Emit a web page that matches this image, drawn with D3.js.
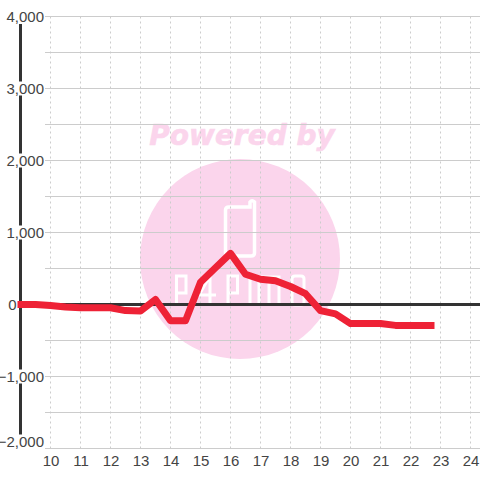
<!DOCTYPE html>
<html>
<head>
<meta charset="utf-8">
<script src="https://cdn.jsdelivr.net/npm/d3@7"></script>
<style>
  html, body { margin: 0; padding: 0; background: #fff; }
  svg { display: block; }
  text { font-family: "Liberation Sans", sans-serif; }
</style>
</head>
<body>
<svg id="chart" width="480" height="480"></svg>
<script>
const hours = [8.9, 9.5, 10, 10.5, 11, 11.5, 12, 12.5, 13, 13.5, 14, 14.5, 15, 15.5, 16, 16.5, 17, 17.5, 18, 18.5, 19, 19.5, 20, 20.5, 21, 21.5, 22, 22.5, 22.8];
const values = [0, 0, -15, -35, -45, -45, -45, -85, -90, 70, -225, -225, 310, 510, 710, 420, 350, 330, 250, 150, -85, -130, -265, -265, -265, -290, -290, -290, -290];

const yTicks = [4000, 3000, 2000, 1000, 0, -1000, -2000];
const yGridTicks = [4000, 3500, 3000, 2500, 2000, 1500, 1000, 500, 0, -500, -1000, -1500, -2000];
const xTicks = [10, 11, 12, 13, 14, 15, 16, 17, 18, 19, 20, 21, 22, 23, 24];

const svg = d3.select("#chart");

const x = d3.scaleLinear().domain([9, 24]).range([20.5, 470.5]);
const y = d3.scaleLinear().domain([-2000, 4000]).range([448.5, 16.5]);

const textColor = '#444';
const axisColor = '#333';
const gridColor = '#ccc';
const lineColor = '#ee2236';
const pink = '#fbd5ec';

// watermark
const wm = svg.append("g");
wm.append("circle").attr("cx", 240).attr("cy", 259).attr("r", 100).attr("fill", pink);
wm.append("path")
  .attr("d", "M225.5,210 Q225.5,207 229,207 H250 V202 Q252,199.5 254.5,202 V253 Q254.5,256 251,256 H229 Q225.5,256 225.5,253 Z")
  .attr("fill", "none").attr("stroke", "#fff").attr("stroke-width", 3.5);
wm.append("path")
  .attr("d", "M176.5,305 V276 H186 V293 H176.5 M199,295 L210,276 V305 M196,295 H216 M228,305 V276 H237.5 V293 H228 M250,305 V276 M259,305 V277 H279 V305 M269,277 V305 M292,279 Q292,276 295,276 H301 Q304,276 304,279 V302 Q304,305 301,305 H295 Q292,305 292,302 Z")
  .attr("fill", "none").attr("stroke", "#fff").attr("stroke-width", 3);
wm.append("text")
  .attr("x", 242).attr("y", 144.5)
  .attr("text-anchor", "middle")
  .style("font-family", "'DejaVu Sans', sans-serif")
  .style("font-size", "28px")
  .style("font-weight", "bold")
  .style("font-style", "italic")
  .attr("fill", pink)
  .attr("stroke", pink)
  .attr("stroke-width", 0.6)
  .text("Powered by");

// grid
svg.append("g")
  .selectAll("line")
  .data(xTicks)
  .enter()
  .append("line")
  .attr("x1", d => x(d)).attr("x2", d => x(d))
  .attr("y1", y(4000)).attr("y2", y(-2000))
  .attr("stroke", gridColor)
  .attr("stroke-dasharray", "2,3");

svg.append("g")
  .selectAll("line")
  .data(yGridTicks)
  .enter()
  .append("line")
  .attr("x1", 45).attr("x2", 480)
  .attr("y1", d => y(d)).attr("y2", d => y(d))
  .attr("stroke", gridColor);

// axes
svg.append("line")
  .attr("x1", x(9)).attr("x2", x(9))
  .attr("y1", 24).attr("y2", 436)
  .attr("stroke", axisColor).attr("stroke-width", 3);

svg.append("line")
  .attr("x1", x(9)).attr("x2", 480)
  .attr("y1", y(0)).attr("y2", y(0))
  .attr("stroke", axisColor).attr("stroke-width", 3);

// white gaps where the labels cross the axis
const labelY = d => Math.min(y(d), 441.5);
svg.append("g")
  .selectAll("rect")
  .data(yTicks.filter(d => d !== 0))
  .enter()
  .append("rect")
  .attr("x", 4).attr("width", 40)
  .attr("y", d => labelY(d) - 7).attr("height", 14)
  .attr("fill", "#fff");

// line
const line = d3.line().x((d, i) => x(hours[i])).y(d => y(d));
svg.append("path")
  .datum(values)
  .attr("fill", "none")
  .attr("stroke", lineColor)
  .attr("stroke-width", 7)
  .attr("stroke-linejoin", "round")
  .attr("d", line);

// tick labels
svg.append("g")
  .selectAll("text")
  .data(yTicks)
  .enter()
  .append("text")
  .attr("x", d => d === 0 ? 16.5 : 44)
  .attr("y", d => labelY(d) + 5.5)
  .attr("text-anchor", "end")
  .style("font-size", "15px")
  .attr("fill", textColor)
  .text(d => d3.format(",")(d));

svg.append("g")
  .selectAll("text")
  .data(xTicks)
  .enter()
  .append("text")
  .attr("x", d => x(d) + 0.5)
  .attr("y", 466)
  .attr("text-anchor", "middle")
  .style("font-size", "15px")
  .attr("fill", textColor)
  .text(d => d);
</script>
</body>
</html>
